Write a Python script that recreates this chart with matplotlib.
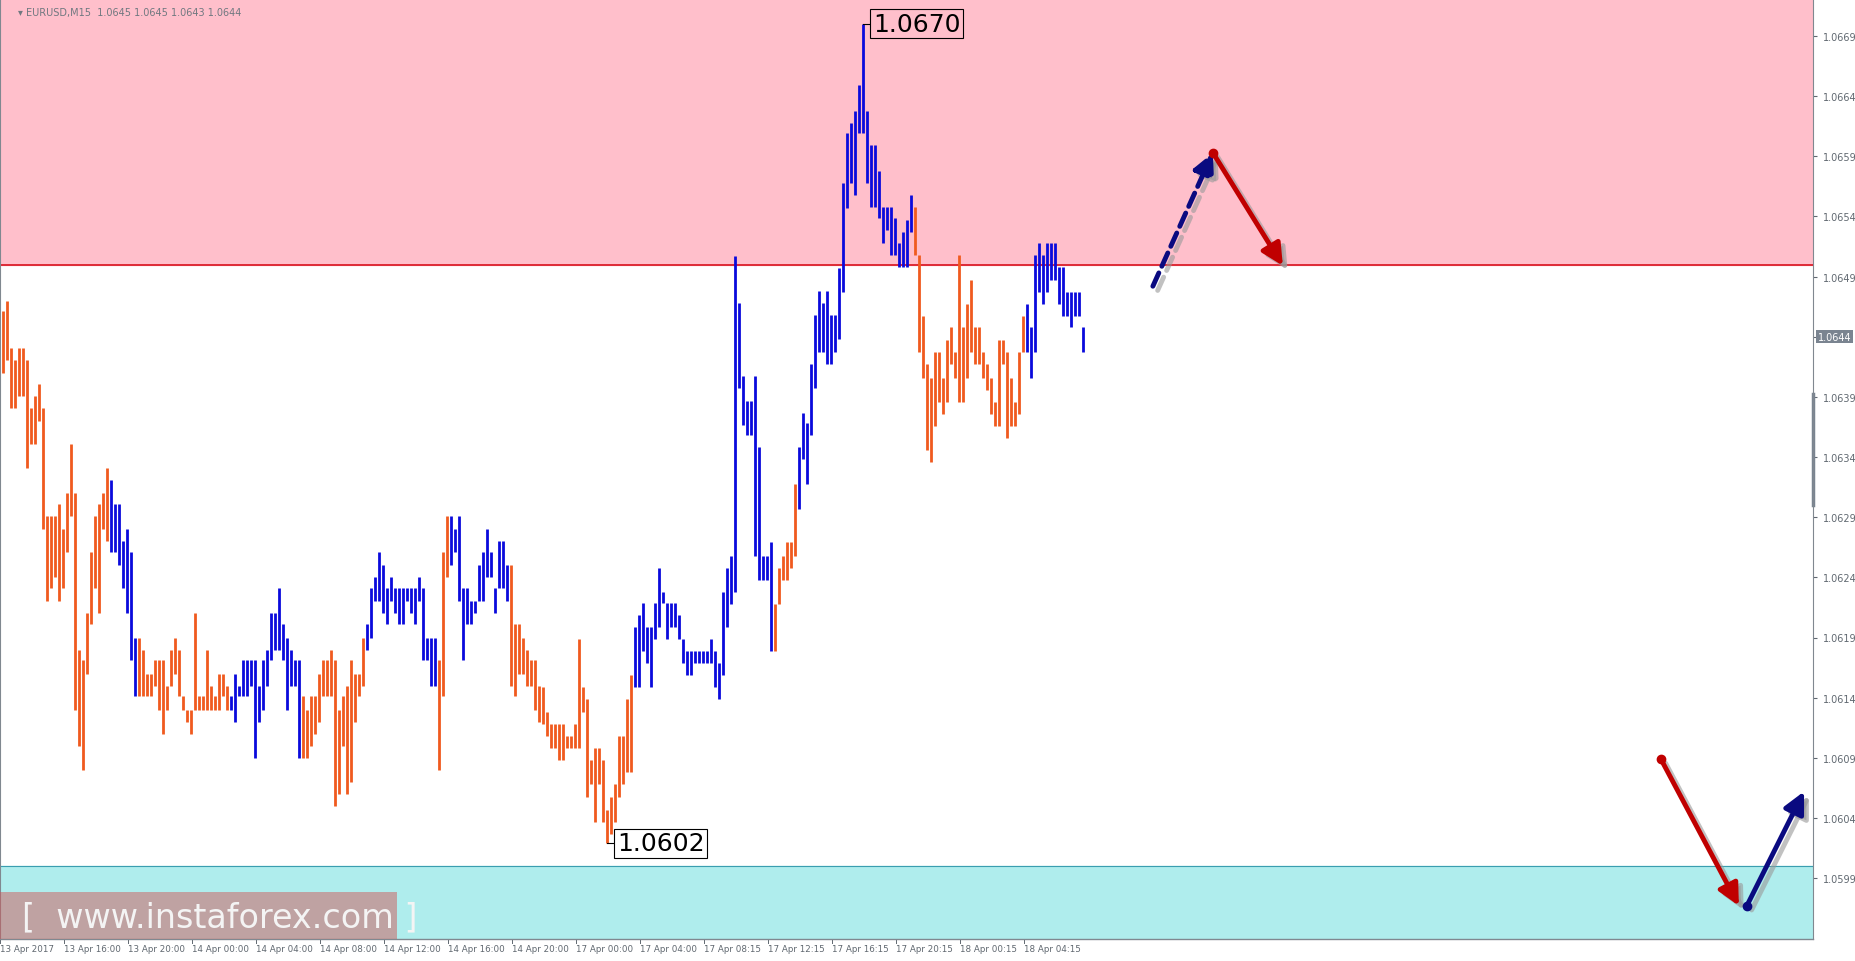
import numpy as np
import matplotlib.pyplot as plt
import matplotlib.patches as mpatches

# Bar highs/lows in pips above 1.0600 (M15 bars)
highs = [46.1, 47.0, 43.1, 42.1, 43.1, 43.1, 42.1, 38.1, 39.1, 40.1,
         38.1, 29.1, 29.1, 29.1, 30.1, 28.0, 31.0, 35.1, 31.0, 18.0,
         17.1, 21.0, 26.1, 29.1, 30.1, 31.0, 33.1, 32.1, 30.1, 30.1,
         27.0, 28.0, 26.1, 19.0, 19.0, 18.0, 16.0, 16.0, 17.1, 17.1,
         17.1, 15.0, 18.0, 19.0, 18.0, 14.1, 13.0, 13.0, 21.0, 14.1,
         14.1, 18.0, 15.0, 14.1, 16.0, 16.0, 15.0, 14.1, 16.0, 15.0,
         17.1, 17.1, 17.1, 17.1, 15.0, 17.1, 18.0, 21.0, 21.0, 23.1,
         20.1, 19.0, 18.0, 17.1, 17.1, 14.1, 13.0, 14.1, 14.1, 16.0,
         17.1, 17.1, 18.0, 17.1, 13.0, 14.1, 15.0, 17.1, 16.0, 16.0,
         19.0, 20.1, 23.1, 24.0, 26.1, 25.0, 23.1, 24.0, 23.1, 23.1,
         23.1, 23.1, 23.1, 23.1, 24.0, 23.1, 19.0, 19.0, 19.0, 17.1,
         26.1, 29.1, 29.1, 28.0, 29.1, 23.1, 23.1, 22.0, 22.0, 25.0,
         26.1, 28.0, 26.1, 23.1, 27.0, 27.0, 25.0, 25.0, 20.1, 20.1,
         19.0, 18.0, 17.1, 17.1, 15.0, 14.9, 12.8, 11.8, 11.8, 11.8,
         11.8, 10.8, 10.8, 11.8, 18.9, 14.9, 13.9, 8.8, 9.8, 9.8,
         8.8, 4.7, 5.7, 6.8, 10.8, 10.8, 13.9, 15.9, 19.9, 20.9,
         21.9, 19.9, 19.9, 21.9, 24.8, 22.8, 21.9, 21.9, 21.9, 20.9,
         18.9, 17.9, 17.9, 17.9, 17.9, 17.9, 17.9, 18.9, 17.9, 16.9,
         22.8, 24.8, 25.8, 50.7, 46.8, 40.7, 38.7, 38.7, 40.7, 34.8,
         25.8, 25.8, 26.9, 21.8, 24.8, 25.8, 26.9, 26.9, 31.8, 34.8,
         37.7, 36.8, 41.7, 45.8, 47.8, 46.8, 47.8, 45.8, 45.8, 49.7,
         56.8, 60.9, 61.8, 62.8, 64.9, 70.0, 62.8, 59.9, 59.9, 57.8,
         54.8, 54.8, 54.8, 53.9, 51.8, 52.7, 53.7, 55.8, 54.8, 50.8,
         45.7, 41.7, 40.6, 42.7, 42.7, 40.6, 43.7, 44.8, 42.7, 50.8,
         44.8, 46.7, 48.7, 44.8, 44.8, 42.7, 41.7, 40.6, 38.6, 43.7,
         43.7, 42.7, 40.6, 38.6, 42.7, 45.7, 46.7, 44.8, 50.8, 51.8,
         50.8, 51.8, 51.8, 51.8, 49.8, 49.8, 47.7, 47.7, 47.7, 47.7,
         44.8]
lows = [41.0, 42.1, 38.1, 38.1, 39.1, 39.1, 33.1, 35.1, 35.1, 37.0,
        28.0, 22.0, 23.1, 24.0, 22.0, 23.1, 26.1, 29.1, 13.0, 10.0,
        8.0, 16.0, 20.1, 23.1, 21.0, 28.0, 27.0, 26.1, 26.1, 25.0,
        23.1, 21.0, 17.1, 14.1, 14.1, 14.1, 14.1, 14.1, 15.0, 13.0,
        11.0, 13.0, 15.0, 16.0, 14.1, 13.0, 12.0, 11.0, 13.0, 13.0,
        13.0, 13.0, 13.0, 13.0, 13.0, 14.1, 13.0, 13.0, 12.0, 14.1,
        14.1, 14.1, 15.0, 9.0, 12.0, 13.0, 15.0, 17.1, 18.0, 18.0,
        17.1, 13.0, 15.0, 15.0, 9.0, 9.0, 9.0, 10.0, 11.0, 12.0,
        14.1, 14.1, 14.1, 5.0, 6.0, 10.0, 6.0, 7.0, 12.0, 14.1,
        15.0, 18.0, 19.0, 22.0, 22.0, 21.0, 20.1, 22.0, 21.0, 20.1,
        20.1, 22.0, 21.0, 20.1, 22.0, 17.1, 17.1, 15.0, 15.0, 8.0,
        14.1, 24.0, 25.0, 26.1, 22.0, 17.1, 20.1, 20.1, 21.0, 22.0,
        22.0, 24.0, 24.0, 21.0, 23.1, 23.1, 22.0, 15.0, 14.1, 16.0,
        16.0, 15.0, 15.0, 13.0, 12.0, 11.8, 10.8, 9.8, 9.8, 8.8,
        8.8, 9.8, 9.8, 9.8, 9.8, 12.8, 5.7, 6.8, 3.7, 6.8,
        3.7, 1.9, 2.7, 3.7, 5.7, 6.8, 7.8, 7.8, 14.9, 14.9,
        17.9, 16.9, 14.9, 18.9, 19.9, 21.9, 18.9, 19.9, 19.9, 18.9,
        16.9, 15.9, 15.9, 16.9, 16.9, 16.9, 16.9, 16.9, 14.9, 13.9,
        15.9, 19.9, 21.8, 22.8, 39.7, 36.7, 35.8, 35.8, 25.8, 23.8,
        23.8, 23.8, 17.9, 17.9, 21.8, 23.8, 23.8, 24.8, 25.8, 29.7,
        33.8, 31.8, 35.8, 39.7, 42.7, 42.7, 41.7, 41.7, 42.7, 43.8,
        47.7, 54.7, 56.8, 55.8, 60.9, 60.9, 56.8, 54.8, 54.8, 53.9,
        51.8, 52.9, 50.8, 50.8, 49.8, 49.8, 49.8, 52.7, 50.8, 42.7,
        40.6, 34.6, 33.6, 36.6, 38.6, 37.6, 38.6, 41.7, 40.6, 38.6,
        38.6, 40.6, 42.7, 41.7, 41.7, 40.6, 39.6, 37.6, 36.6, 36.6,
        41.7, 35.6, 36.6, 36.6, 37.6, 42.7, 42.7, 40.6, 42.7, 47.7,
        46.7, 47.7, 48.7, 48.7, 46.7, 45.7, 45.7, 44.8, 45.7, 45.7,
        42.7]

# Wave segments (first bar, last bar, colour), bars numbered from 1
waves = [(1, 27, "#F05A1E"), (28, 34, "#0A0ADC"), (35, 57, "#F05A1E"),
         (58, 75, "#0A0ADC"), (76, 91, "#F05A1E"), (92, 109, "#0A0ADC"),
         (110, 112, "#F05A1E"), (113, 127, "#0A0ADC"), (128, 158, "#F05A1E"),
         (159, 193, "#0A0ADC"), (194, 199, "#F05A1E"), (200, 228, "#0A0ADC"),
         (229, 256, "#F05A1E"), (257, 271, "#0A0ADC")]

time_labels = ["13 Apr 2017", "13 Apr 16:00", "13 Apr 20:00", "14 Apr 00:00",
               "14 Apr 04:00", "14 Apr 08:00", "14 Apr 12:00", "14 Apr 16:00",
               "14 Apr 20:00", "17 Apr 00:00", "17 Apr 04:00", "17 Apr 08:15",
               "17 Apr 12:15", "17 Apr 16:15", "17 Apr 20:15", "18 Apr 00:15",
               "18 Apr 04:15"]
price_ticks = [1.0669, 1.0664, 1.0659, 1.0654, 1.0649, 1.0644, 1.0639, 1.0634,
               1.0629, 1.0624, 1.0619, 1.0614, 1.0609, 1.0604, 1.0599]

resistance = 1.0650
support = 1.0600
last_close = 1.0644

hi = 1.06 + np.array(highs) / 1e4
lo = 1.06 + np.array(lows) / 1e4
n = np.arange(1, len(hi) + 1)
colors = [""] * len(hi)
for a, b, c in waves:
    for i in range(a - 1, b):
        colors[i] = c

fig = plt.figure(figsize=(18.55, 9.62), dpi=100)
ax = fig.add_axes([0, 22 / 962, 1813 / 1855, 940 / 962])
x0 = 0.285
ax.set_xlim(x0, x0 + 1813 / 4)
ymax = 1.0669 + 37 / 120300
ymin = 1.0669 - 903 / 120300
ax.set_ylim(ymin, ymax)

# zones
ax.axhspan(resistance, ymax, color="#FFBFCB", zorder=0)
ax.axhline(resistance, color="#D8121E", lw=1.2, zorder=1)
ax.axhspan(ymin, support, color="#AFEDED", zorder=0)
ax.axhline(support, color="#3A9EB0", lw=0.8, zorder=1)

ax.vlines(n, lo, hi, colors=colors, lw=2.0, zorder=3)

# high / low labels
i_hi = int(np.argmax(hi))
i_lo = int(np.argmin(lo))
ax.plot([n[i_hi], n[i_hi] + 2.3], [hi[i_hi], hi[i_hi]], color="black", lw=0.8, zorder=4)
ax.text(n[i_hi] + 2.5, hi[i_hi], f"{hi[i_hi]:.4f}", fontsize=18, va="center", ha="left",
        bbox=dict(boxstyle="square,pad=0.1", fc="#FFBFCB", ec="black", lw=0.8), zorder=5)
ax.plot([n[i_lo], n[i_lo] + 2.3], [lo[i_lo], lo[i_lo]], color="black", lw=0.8, zorder=4)
ax.text(n[i_lo] + 2.5, lo[i_lo], f"{lo[i_lo]:.4f}", fontsize=18, va="center", ha="left",
        bbox=dict(boxstyle="square,pad=0.1", fc="white", ec="black", lw=0.8), zorder=5)

# forecast arrows
def arrow(x1, y1, x2, y2, color, ls="-", dot=True):
    ax.annotate("", xy=(x2 + 1.2, y2 - 0.000035), xytext=(x1 + 1.2, y1 - 0.000035),
                arrowprops=dict(arrowstyle="-|>", color="#999999", lw=3.5, ls=ls,
                                mutation_scale=32, shrinkA=0, shrinkB=0, alpha=0.6), zorder=5)
    ax.annotate("", xy=(x2, y2), xytext=(x1, y1),
                arrowprops=dict(arrowstyle="-|>", color=color, lw=3.5, ls=ls,
                                mutation_scale=32, shrinkA=0, shrinkB=0), zorder=6)
    if dot:
        ax.plot(x1, y1, "o", color=color, ms=6, zorder=7)

arrow(288.5, 1.06482, 303.5, 1.06593, "#0A0A80", ls=(0, (3, 1.5)), dot=False)
arrow(303.5, 1.06593, 321.0, 1.06499, "#C00000")
arrow(415.5, 1.06089, 435.0, 1.05967, "#C00000")
arrow(437.0, 1.05967, 451.3, 1.06062, "#0A0A80")

# axes styling
for s in ["top", "bottom"]:
    ax.spines[s].set_visible(False)
ax.spines["left"].set_color("#808890")
ax.spines["right"].set_color("#808890")
ax.yaxis.tick_right()
ax.set_yticks(price_ticks)
ax.set_yticklabels(["" if abs(p - last_close) < 1e-6 else f"{p:.4f}" for p in price_ticks])
ax.tick_params(axis="y", labelsize=7, colors="#606870", length=3, pad=4)
ax.set_xticks([1 + 16 * k for k in range(len(time_labels))])
ax.set_xticklabels([])
ax.tick_params(axis="x", length=0)
for k, lab in enumerate(time_labels):
    ax.text(1 + 16 * k - 0.7, ymin - 0.00004, lab, fontsize=6.3, color="#606870",
            ha="left", va="top", clip_on=False)
    ax.plot([1 + 16 * k - 0.7] * 2, [ymin, ymin - 0.00003], color="#606870", lw=0.7, clip_on=False)
ax.plot([x0, x0 + 1813 / 4], [ymin, ymin], color="#808890", lw=1, clip_on=False)

# current price marker
ax.text(1.0025, last_close, f"{last_close:.4f}", transform=ax.get_yaxis_transform(),
        fontsize=7, color="white", va="center", ha="left",
        bbox=dict(boxstyle="square,pad=0.15", fc="#7A8490", ec="none"))
ax.plot([1.0, 1.0], [1.06392, 1.06300], transform=ax.get_yaxis_transform(),
        color="#7A8490", lw=2.5, clip_on=False)

# header and watermark
ax.text(0.01, 0.992, "\u25be EURUSD,M15  1.0645 1.0645 1.0643 1.0644", transform=ax.transAxes,
        fontsize=7, color="#707880", va="top", ha="left")
ax.add_patch(mpatches.Rectangle((0, 0), 397 / 1813, 47 / 940, transform=ax.transAxes,
                                fc="#D05858", alpha=0.5, ec="none", zorder=8, clip_on=False))
ax.text(0.012, 0.024, "[  www.instaforex.com ]", transform=ax.transAxes, fontsize=24,
        color="#F4F4F4", va="center", ha="left", zorder=9)

fig.savefig("out.png", dpi=100)
